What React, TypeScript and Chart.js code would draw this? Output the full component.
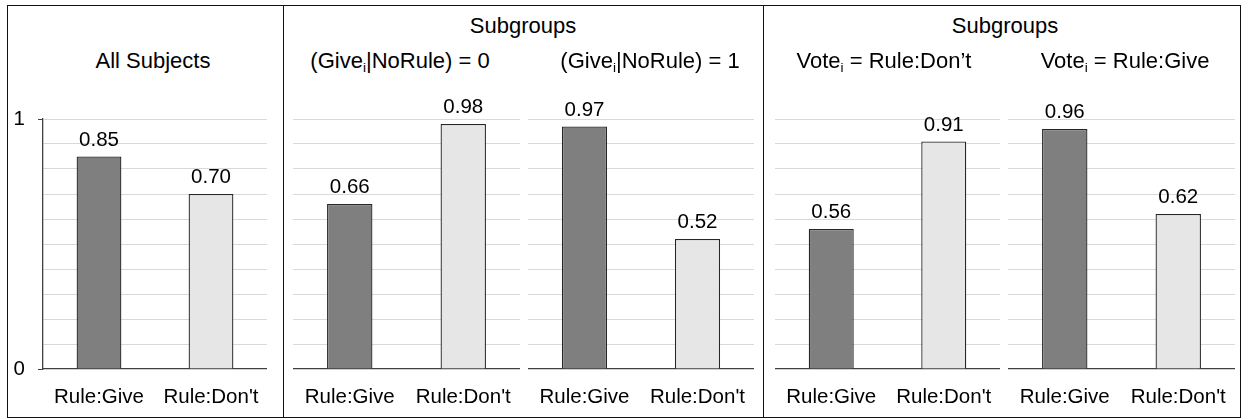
import React, { useEffect, useRef } from 'react';
import { Chart, registerables } from 'chart.js';

Chart.register(...registerables);

// ---- data ----
const categories = ['Rule:Give', "Rule:Don't"];
const allSubjects = [0.85, 0.7];
const noRule0 = [0.66, 0.98];
const noRule1 = [0.97, 0.52];
const voteDont = [0.56, 0.91];
const voteGive = [0.96, 0.62];
const yTickLabels = [0, 1];
const barColors = ['#7f7f7f', '#e6e6e6'];

// ---- layout / style ----
const FONT = '"Liberation Sans", Arial, Helvetica, sans-serif';
const CANVAS_TOP = 80;
const PLOT_TOP = 119;
const PLOT_BOTTOM = 369;
const XAXIS_H = 49;
const AXIS_COLOR = '#404040';
const GRID_COLOR = '#d9d9d9';

const valueLabels = {
  id: 'valueLabels',
  afterDatasetsDraw(chart: any) {
    const ctx = chart.ctx;
    const meta = chart.getDatasetMeta(0);
    const data = chart.data.datasets[0].data as number[];
    ctx.save();
    ctx.font = `20.5px ${FONT}`;
    ctx.fillStyle = '#000';
    ctx.textAlign = 'center';
    ctx.textBaseline = 'alphabetic';
    meta.data.forEach((el: any, i: number) => {
      ctx.fillText(Number(data[i]).toFixed(2), el.x, el.y - 11);
    });
    ctx.restore();
  },
};

type SubProps = { values: number[]; left: number; right: number; yAxis: boolean };

function SubChart({ values, left, right, yAxis }: SubProps) {
  const ref = useRef<HTMLCanvasElement | null>(null);
  const canvasLeft = yAxis ? 0 : left;
  const width = right - canvasLeft;
  const height = PLOT_BOTTOM + XAXIS_H - CANVAS_TOP;

  useEffect(() => {
    if (!ref.current) return;
    const isEdge = (v: number) => yTickLabels.some((t) => Math.abs(t - v) < 1e-9);
    const chart = new Chart(ref.current, {
      type: 'bar',
      data: {
        labels: categories,
        datasets: [
          {
            data: values,
            backgroundColor: barColors,
            borderColor: '#262626',
            borderWidth: 1.3,
            categoryPercentage: 1,
            barPercentage: 0.4,
          },
        ],
      },
      options: {
        responsive: false,
        maintainAspectRatio: false,
        animation: false,
        devicePixelRatio: 1,
        layout: { padding: { top: PLOT_TOP - CANVAS_TOP, left: 0, right: 0, bottom: 0 } },
        plugins: { legend: { display: false }, tooltip: { enabled: false } },
        scales: {
          x: {
            grid: { display: false },
            border: { display: true, color: AXIS_COLOR, width: 1.3 },
            ticks: {
              autoSkip: false,
              maxRotation: 0,
              font: { family: FONT, size: 20.5 },
              color: '#000',
              padding: 8,
            },
            afterFit: (s: any) => {
              s.height = XAXIS_H;
            },
          },
          y: {
            min: 0,
            max: 1,
            ticks: {
              stepSize: 0.1,
              autoSkip: false,
              display: yAxis,
              callback: (v: any) => (isEdge(Number(v)) ? String(Math.round(Number(v))) : ''),
              font: { family: FONT, size: 20.5 },
              color: '#000',
              padding: 13,
            },
            grid: {
              color: (c: any) => (c.tick && Math.abs(c.tick.value) < 1e-9 ? 'rgba(0,0,0,0)' : GRID_COLOR),
              tickColor: (c: any) => (c.tick && isEdge(c.tick.value) ? AXIS_COLOR : 'rgba(0,0,0,0)'),
              drawTicks: yAxis,
              tickLength: 5,
              lineWidth: 1,
            },
            border: { display: yAxis, color: AXIS_COLOR, width: 1.3 },
            afterFit: (s: any) => {
              s.width = yAxis ? 43 : 0;
            },
          },
        },
      },
      plugins: [valueLabels],
    });
    return () => chart.destroy();
  }, [values, left, right, yAxis]);

  return (
    <canvas
      ref={ref}
      width={width}
      height={height}
      style={{ position: 'absolute', left: canvasLeft, top: CANVAS_TOP, width, height }}
    />
  );
}

function Title({ children, center, baseline }: { children: React.ReactNode; center: number; baseline: number }) {
  return (
    <div
      style={{
        position: 'absolute',
        left: center - 150,
        width: 300,
        top: baseline - 18.6,
        textAlign: 'center',
        fontFamily: FONT,
        fontSize: 22,
        lineHeight: '22px',
        color: '#000',
        whiteSpace: 'nowrap',
      }}
    >
      {children}
    </div>
  );
}

const Sub = () => (
  <span style={{ fontSize: '0.62em', verticalAlign: '-0.3em', lineHeight: 0 }}>i</span>
);

export default function App() {
  return (
    <div
      style={{
        position: 'fixed',
        left: 0,
        top: 0,
        width: 1241,
        height: 418,
        overflow: 'hidden',
        background: '#fff',
      }}
    >
      <SubChart values={allSubjects} left={43} right={267} yAxis={true} />
      <SubChart values={noRule0} left={293} right={520} yAxis={false} />
      <SubChart values={noRule1} left={528} right={754} yAxis={false} />
      <SubChart values={voteDont} left={775} right={1000} yAxis={false} />
      <SubChart values={voteGive} left={1008} right={1235} yAxis={false} />

      <Title center={153} baseline={69}>All Subjects</Title>
      <Title center={523} baseline={34}>Subgroups</Title>
      <Title center={1005} baseline={34}>Subgroups</Title>
      <Title center={400} baseline={69}>
        (Give<Sub />|NoRule) = 0
      </Title>
      <Title center={650} baseline={69}>
        (Give<Sub />|NoRule) = 1
      </Title>
      <Title center={884} baseline={69}>
        Vote<Sub /> = Rule:Don’t
      </Title>
      <Title center={1125} baseline={69}>
        Vote<Sub /> = Rule:Give
      </Title>

      <div
        style={{
          position: 'absolute',
          left: 7,
          top: 5,
          width: 1234,
          height: 413,
          boxSizing: 'border-box',
          border: '1.5px solid #111',
        }}
      />
      <div style={{ position: 'absolute', left: 282.5, top: 5, width: 1.5, height: 413, background: '#111' }} />
      <div style={{ position: 'absolute', left: 762.5, top: 5, width: 1.5, height: 413, background: '#111' }} />
    </div>
  );
}
